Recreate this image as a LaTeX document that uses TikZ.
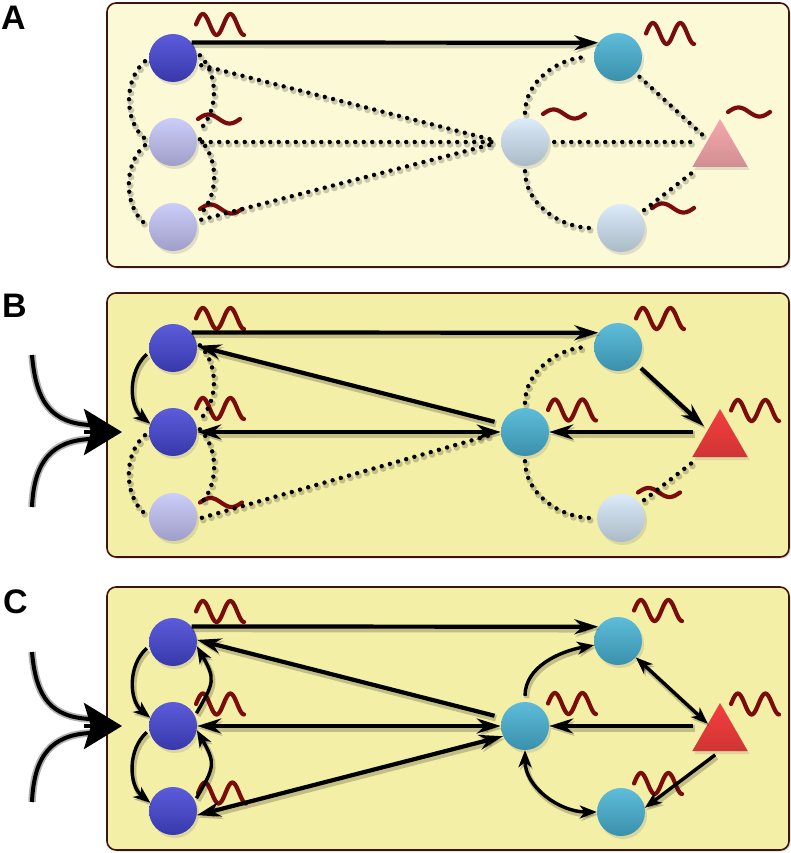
\documentclass[tikz,border=0pt]{standalone}
\usepackage{fontspec}
\setsansfont{Liberation Sans}
\usepackage{xcolor}
\definecolor{panelpale}{HTML}{FCFAD6}
\definecolor{panelyellow}{HTML}{F4EFA6}
\definecolor{panelrim}{HTML}{3C1410}
\definecolor{wavered}{HTML}{7A0C0C}
\definecolor{deepblue}{HTML}{4646D6}
\definecolor{lavender}{HTML}{C6C6FA}
\definecolor{cyanball}{HTML}{48B4D6}
\definecolor{paleblue}{HTML}{D6E8F8}
\definecolor{pinktri}{HTML}{F6A8AC}
\definecolor{redtri}{HTML}{F43E3E}
\usepackage{tikz}
\usetikzlibrary{shapes.geometric,arrows.meta,shadows}

\tikzset{
  panel/.style={draw=panelrim, line width=1.6pt, rounded corners=9pt, fill=#1,
    drop shadow={shadow xshift=1.5pt, shadow yshift=-1.5pt, opacity=.3}},
  ball/.style={circle, minimum size=48pt, inner sep=0pt, top color=#1!88!white, middle color=#1,
    bottom color=#1!80!black,
    drop shadow={shadow xshift=2pt, shadow yshift=-3pt, opacity=.22}},
  tri/.style={regular polygon, regular polygon sides=3, minimum size=64pt, inner sep=0pt,
    top color=#1, middle color=#1, bottom color=#1!85!black,
    drop shadow={shadow xshift=2pt, shadow yshift=-3pt, opacity=.22}},
  shade line/.style={preaction={draw=black, opacity=.2, line width=#1,
    transform canvas={shift={(1.5pt,-2.5pt)}}}},
  dots/.style={line width=4.4pt, line cap=round, dash pattern=on 0pt off 8.5pt,
    shorten <=5pt, shorten >=5pt,
    preaction={draw=black, opacity=.2, line width=6.5pt, line cap=round,
      dash pattern=on 0pt off 8.5pt, transform canvas={shift={(1.5pt,-2.5pt)}}}},
  link/.style={line width=4.2pt, >={Stealth[length=24pt,width=15pt,inset=8pt]}, shade line=6.5pt},
  curlink/.style={line width=3.4pt, >={Stealth[length=17pt,width=13pt,inset=5pt]}, shade line=5.5pt},
  feed/.style={line width=4pt, preaction={draw=black!30, line width=7.5pt}},
  wave/.style={draw=wavered, line width=4.2pt, line cap=round, line join=round},
  letter/.style={font=\sffamily\bfseries\fontsize{34}{34}\selectfont, inner sep=0pt, anchor=base west},
}
\newcommand\bigwave[2]{\draw[wave, shift={(#1,#2)}] plot[domain=0:48, samples=60, smooth] (\x,{-10.5*sin(13.1*\x)});}
\newcommand\smallwave[2]{\draw[wave, shift={(#1,#2)}] plot[domain=0:42, samples=40, smooth] (\x,{-4.5*sin(8.57*\x)});}

\begin{document}
\begin{tikzpicture}[x=1pt, y=-1pt]
  \useasboundingbox (0,0) rectangle (791,853);
  \node[letter] (labA) at (1,30) {A};
  \node[letter] (labB) at (2,317) {B};
  \node[letter] (labC) at (3,613) {C};

  \begin{scope}[shift={(0,3)}]
    \draw[panel=panelpale] (107,0) rectangle (789,264);
    \node[ball=deepblue] (aL1) at (173,55) {};
    \node[ball=lavender] (aL2) at (173,139) {};
    \node[ball=lavender] (aL3) at (173,224) {};
    \node[ball=cyanball] (aR1) at (618,54) {};
    \node[ball=paleblue] (aM) at (525,139) {};
    \node[tri=pinktri] (aT) at (720,148) {};
    \node[ball=paleblue] (aR3) at (621,225) {};
    \bigwave{196}{21.5} \smallwave{198}{116} \smallwave{200}{206}
    \bigwave{646}{30.5} \smallwave{543}{111} \smallwave{728}{109} \smallwave{652}{205}
    \draw[link,->] (aL1.40) -- (aR1.144);
    \draw[dots, shorten >=8pt] (aL1) -- (aM.west);
    \draw[dots, shorten >=8pt] (aL2) -- (aM.west);
    \draw[dots, shorten >=8pt] (aL3) -- (aM.west);
    \draw[dots] (aL1.west) to[bend right=50] (aL2.west);
    \draw[dots] (aL2.west) to[bend right=50] (aL3.west);
    \draw[dots] (aL1.15) to[bend left=45] (aL2.20);
    \draw[dots] (aL2.15) to[bend left=45] (aL3.20);
    \draw[dots] (aM) to[out=90,in=180] (aR1);
    \draw[dots] (aM) to[out=-90,in=180] (aR3);
    \draw[dots] (aR1) -- (aT);
    \draw[dots] (aM) -- (aM -| aT.west);
    \draw[dots] (aR3) -- (aT);
  \end{scope}

  \begin{scope}[shift={(0,293)}]
    \draw[panel=panelyellow] (107,0) rectangle (789,264);
    \node[ball=deepblue] (bL1) at (173,55) {};
    \node[ball=deepblue] (bL2) at (173,139) {};
    \node[ball=lavender] (bL3) at (173,224) {};
    \node[ball=cyanball] (bR1) at (618,54) {};
    \node[ball=cyanball] (bM) at (525,139) {};
    \node[tri=redtri] (bT) at (720,148) {};
    \node[ball=paleblue] (bR3) at (621,225) {};
    \bigwave{196}{25.5} \bigwave{196}{115.5} \smallwave{200}{209.5}
    \bigwave{636}{25.5} \bigwave{548}{117} \bigwave{731}{117.5} \smallwave{638}{199.5}
    \draw[link,->] (bL1.40) -- (bR1.144);
    \draw[link,->,shorten <=8pt] (bM.160) -- (bL1.5);
    \draw[link,<->] (bL2) -- (bM);
    \draw[dots, shorten >=8pt] (bL3.-5) -- (bM.west);
    \draw[curlink,->,shorten <=3pt] (bL1.190) to[bend right=50] (bL2.160);
    \draw[dots] (bL1.15) to[bend left=45] (bL2.20);
    \draw[dots] (bL2.west) to[bend right=50] (bL3.west);
    \draw[dots] (bL2.15) to[bend left=45] (bL3.20);
    \draw[link,->,shorten <=7pt,shorten >=5pt] (bR1) -- (bT);
    \draw[link,->,shorten <=8pt] (bM -| bT.west) -- (bM);
    \draw[dots] (bM) to[out=90,in=180] (bR1);
    \draw[dots] (bM) to[out=-90,in=180] (bR3);
    \draw[dots] (bR3) -- (bT);
    \coordinate (bInTop) at (32,62);
    \coordinate (bInBot) at (32,214);
    \coordinate (bJoinTop) at (90,132);
    \coordinate (bJoinBot) at (90,146);
    \coordinate (bInBase) at (84,139);
    \coordinate (bInTip) at (122,139);
    \draw[feed] (bInTop) .. controls (36,110) and (52,130) .. (bJoinTop);
    \draw[feed] (bInBot) .. controls (34,168) and (52,148) .. (bJoinBot);
    \draw[line width=4pt, -{Stealth[length=38pt,width=46pt,inset=7pt]}] (bInBase) -- (bInTip);
  \end{scope}

  \begin{scope}[shift={(0,587)}]
    \draw[panel=panelyellow] (107,0) rectangle (789,263);
    \node[ball=deepblue] (cL1) at (173,55) {};
    \node[ball=deepblue] (cL2) at (173,139) {};
    \node[ball=deepblue] (cL3) at (173,224) {};
    \node[ball=cyanball] (cR1) at (618,54) {};
    \node[ball=cyanball] (cM) at (525,139) {};
    \node[tri=redtri] (cT) at (720,148) {};
    \node[ball=cyanball] (cR3) at (621,225) {};
    \bigwave{196}{24.5} \bigwave{196}{117} \bigwave{198}{206}
    \bigwave{634}{23.5} \bigwave{548}{116.5} \bigwave{731}{117} \bigwave{634}{196.5}
    \draw[link,->] (cL1.40) -- (cR1.144);
    \draw[link,->,shorten <=8pt] (cM.160) -- (cL1.5);
    \draw[link,<->] (cL2) -- (cM);
    \draw[link,<->] (cL3.-10) -- (cM.205);
    \draw[curlink,->,shorten <=3pt] (cL1.190) to[bend right=50] (cL2.160);
    \draw[curlink,->,shorten <=3pt] (cL2.190) to[bend right=50] (cL3.160);
    \draw[curlink,->,shorten <=3pt] (cL2.25) to[out=60,in=-60,looseness=1.4] (cL1.-10);
    \draw[curlink,->,shorten <=3pt] (cL3.25) to[out=60,in=-60,looseness=1.4] (cL2.-10);
    \draw[curlink,->,shorten <=6pt] (cM) to[out=90,in=190] (cR1);
    \draw[curlink,<->] (cM) to[out=-90,in=180] (cR3);
    \draw[curlink,<->] (cR1) -- (cT);
    \draw[link,->,shorten <=8pt] (cM -| cT.west) -- (cM);
    \draw[curlink,->,shorten <=6pt] (cT.south) -- (cR3.10);
    \coordinate (cInTop) at (32,65);
    \coordinate (cInBot) at (32,215);
    \coordinate (cJoinTop) at (90,132);
    \coordinate (cJoinBot) at (90,146);
    \coordinate (cInBase) at (84,139);
    \coordinate (cInTip) at (122,139);
    \draw[feed] (cInTop) .. controls (36,112) and (52,130) .. (cJoinTop);
    \draw[feed] (cInBot) .. controls (34,168) and (52,148) .. (cJoinBot);
    \draw[line width=4pt, -{Stealth[length=38pt,width=46pt,inset=7pt]}] (cInBase) -- (cInTip);
  \end{scope}
\end{tikzpicture}
\end{document}
